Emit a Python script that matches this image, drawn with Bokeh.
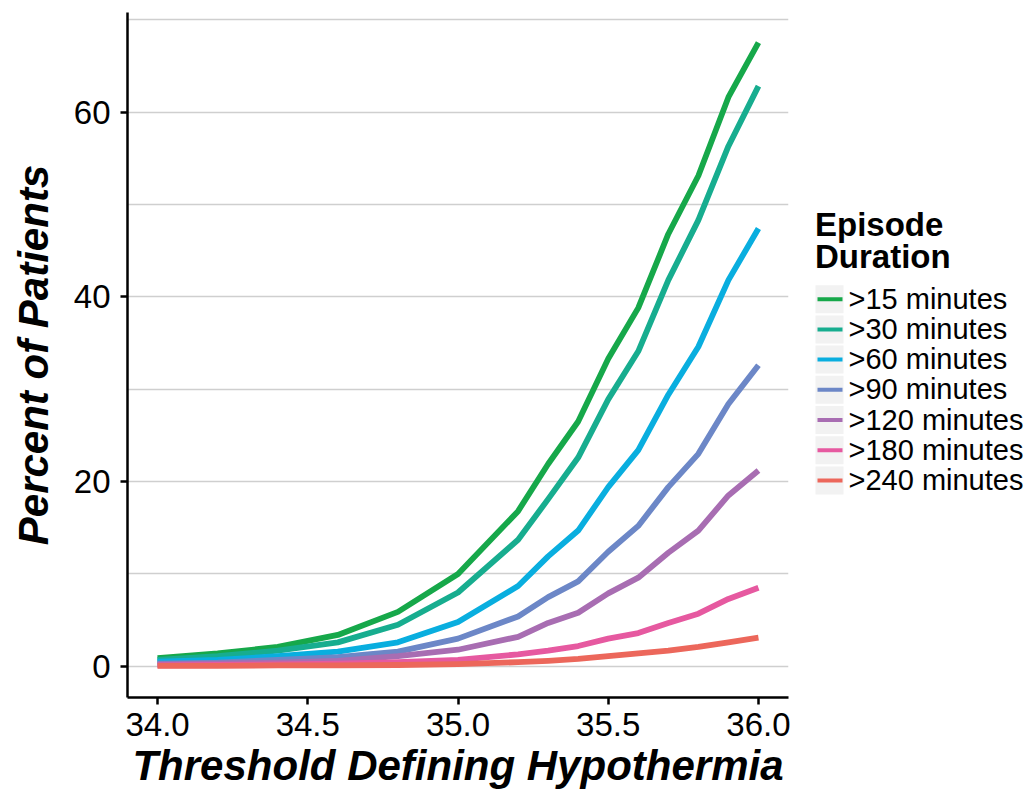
from bokeh.plotting import figure
from bokeh.layouts import row
from bokeh.models import Range1d, FixedTicker, NumeralTickFormatter
from bokeh.embed import file_html
from bokeh.resources import INLINE
from bokeh.core.properties import value

# ---- data ----
thresholds = [34.0, 34.2, 34.4, 34.6, 34.8, 35.0, 35.2, 35.3, 35.4, 35.5, 35.6, 35.7, 35.8, 35.9, 36.0]

series_names = [">15 minutes", ">30 minutes", ">60 minutes", ">90 minutes",
                ">120 minutes", ">180 minutes", ">240 minutes"]

pct_15 = [0.9, 1.4, 2.1, 3.4, 5.9, 10.0, 16.8, 21.9, 26.5, 33.3, 38.8, 46.8, 53.1, 61.6, 67.5]
pct_30 = [0.7, 1.1, 1.7, 2.6, 4.5, 8.0, 13.7, 18.1, 22.6, 28.9, 34.1, 41.8, 48.3, 56.3, 62.8]
pct_60 = [0.5, 0.7, 1.1, 1.6, 2.6, 4.8, 8.7, 11.9, 14.7, 19.4, 23.4, 29.4, 34.6, 41.8, 47.4]
pct_90 = [0.3, 0.4, 0.7, 1.0, 1.6, 3.0, 5.4, 7.5, 9.2, 12.4, 15.2, 19.4, 23.0, 28.4, 32.6]
pct_120 = [0.2, 0.3, 0.4, 0.6, 1.1, 1.8, 3.2, 4.7, 5.8, 7.9, 9.6, 12.3, 14.7, 18.5, 21.2]
pct_180 = [0.1, 0.15, 0.2, 0.3, 0.45, 0.7, 1.3, 1.7, 2.2, 3.0, 3.6, 4.7, 5.7, 7.3, 8.5]
pct_240 = [0.05, 0.05, 0.1, 0.1, 0.15, 0.25, 0.45, 0.6, 0.8, 1.1, 1.4, 1.7, 2.1, 2.6, 3.1]

series_values = [pct_15, pct_30, pct_60, pct_90, pct_120, pct_180, pct_240]

colors = ["#16a84a", "#17ad8f", "#09aedf", "#6c87c7", "#a86db2", "#e659a0", "#ec675b"]

x_ticks = [34.0, 34.5, 35.0, 35.5, 36.0]
y_ticks = [0, 20, 40, 60]
y_minor = [10, 30, 50, 70]

x_title = "Threshold Defining Hypothermia"
y_title = "Percent of Patients"
legend_title = ["Episode", "Duration"]

FONT = "Liberation Sans"

# ---- main plot ----
y0, y1 = -3.37, 70.77
x0, x1 = 33.9, 36.1
W, H = 1032, 794
MAIN_W = 798
TOP, BOTTOM = 12, 97
frame_h = H - TOP - BOTTOM
py = frame_h / (y1 - y0)

yr = Range1d(y0, y1)
p = figure(width=MAIN_W, height=H, x_range=Range1d(x0, x1), y_range=yr,
           output_backend="svg", toolbar_location=None,
           min_border_left=127, min_border_right=10, min_border_top=TOP, min_border_bottom=BOTTOM)
p.outline_line_color = None
p.background_fill_color = "white"
p.border_fill_color = "white"

p.xgrid.grid_line_color = None
p.ygrid.grid_line_color = "#cfcfcf"
p.ygrid.grid_line_width = 1.5
p.ygrid.minor_grid_line_color = "#cfcfcf"
p.ygrid.minor_grid_line_width = 1.5

p.xaxis.ticker = FixedTicker(ticks=x_ticks)
p.yaxis.ticker = FixedTicker(ticks=y_ticks, minor_ticks=y_minor)
p.xaxis.formatter = NumeralTickFormatter(format="0.0")

for ax in (p.xaxis, p.yaxis):
    ax.axis_line_color = "black"
    ax.axis_line_width = 2.5
    ax.major_tick_line_color = "black"
    ax.major_tick_line_width = 2.5
    ax.major_tick_out = 7
    ax.major_tick_in = 0
    ax.minor_tick_line_color = None
    ax.major_label_text_font = FONT
    ax.major_label_text_font_size = "33px"
    ax.major_label_text_color = "black"
    ax.axis_label_text_font = FONT
    ax.axis_label_text_font_size = "42px"
    ax.axis_label_text_font_style = "bold italic"
    ax.axis_label_text_color = "black"

p.xaxis.axis_label = x_title
p.yaxis.axis_label = y_title
p.yaxis.major_label_standoff = 10
p.xaxis.major_label_standoff = 8
p.xaxis.axis_label_standoff = 3
p.yaxis.axis_label_standoff = 14

for vals, c in zip(series_values, colors):
    p.line(thresholds, vals, line_width=5.8, line_color=c, line_join="round", line_cap="butt")

# ---- legend panel (shares the y scale with the plot) ----
lw = W - MAIN_W
lf = figure(width=lw, height=H, x_range=Range1d(0, lw), y_range=yr,
            output_backend="svg", toolbar_location=None,
            min_border_left=0, min_border_right=0, min_border_top=TOP, min_border_bottom=BOTTOM,
            x_axis_type=None, y_axis_type=None)
lf.outline_line_color = None
lf.grid.visible = False
lf.background_fill_color = "white"
lf.border_fill_color = "white"


def ypix(page_y):
    return y1 - (page_y - TOP) / py


n = len(series_names)
key_pages = [298.7 + 30.2 * i for i in range(n)]
centers = [ypix(k) for k in key_pages]
lf.rect(x=[31] * n, y=centers, width=28, height=28 / py,
        fill_color="#f2f2f2", line_color=None)
lf.segment(x0=[19] * n, y0=centers, x1=[44] * n, y1=centers,
           line_color=colors, line_width=4)
lf.text(x=[50] * n, y=[ypix(k - 0.5) for k in key_pages], text=series_names,
        text_font=value(FONT), text_font_size="29px", text_baseline="alphabetic",
        text_color="black")
lf.text(x=[16.5, 16.5], y=[ypix(224), ypix(256)], text=legend_title,
        text_font=value(FONT), text_font_size="33px", text_font_style="bold",
        text_baseline="alphabetic", text_color="black")

layout = row(p, lf)
open("out.html", "w").write(file_html(layout, INLINE))
